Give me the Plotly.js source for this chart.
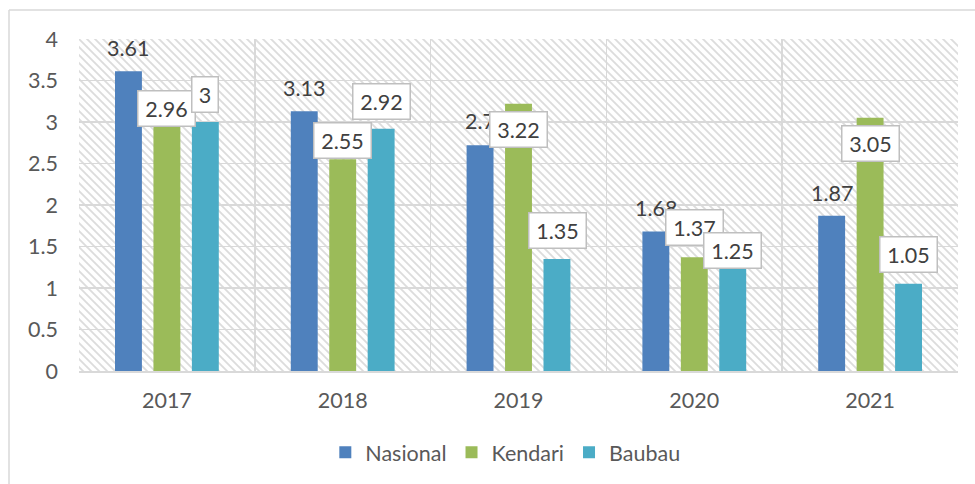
<!DOCTYPE html>
<html>
<head>
<meta charset="utf-8">
<script src="https://cdn.plot.ly/plotly-3.0.1.min.js"></script>
<style>
html,body{margin:0;padding:0;background:#fff;}
#chart{width:975px;height:484px;}
</style>
</head>
<body>
<div id="chart"></div>
<script>
// ---- data ----
const years = ["2017", "2018", "2019", "2020", "2021"];
const nasional = [3.61, 3.13, 2.72, 1.68, 1.87];
const kendari = [2.96, 2.55, 3.22, 1.37, 3.05];
const baubau = [3, 2.92, 1.35, 1.25, 1.05];
const seriesNames = ["Nasional", "Kendari", "Baubau"];
const yTicks = [0, 0.5, 1, 1.5, 2, 2.5, 3, 3.5, 4];

// ---- style ----
const colors = ["#4F81BD", "#9BBB59", "#4BACC6"];
const FONT = "Lato, 'Open Sans', sans-serif";
const TXT = "#595959";
const FS = 21.5;
// label offsets (px), styling only
const labelShift = [
  [23, 23, 24, 24, 23],
  [17, 19, -26, 30, -26],
  [28, 27, 28, 17, 29]
];
const labelXShift = [
  [0, 0, 6, 0, 0],
  [0, 0, 0, 0, 0],
  [0, 0, 0, 0, 0]
];
const slotPx = 38.5;

const allSeries = [nasional, kendari, baubau];
const traces = allSeries.map((vals, i) => ({
  type: "bar",
  name: seriesNames[i],
  x: years,
  y: vals,
  marker: {color: colors[i]},
  hoverinfo: "skip"
}));

// hatched background as svg pattern
const W = 879, H = 332, P = 8;
const svg = `<svg xmlns='http://www.w3.org/2000/svg' width='${W}' height='${H}' viewBox='0 0 ${W} ${H}'>` +
  `<defs><pattern id='p' patternUnits='userSpaceOnUse' width='${P}' height='${P}'>` +
  `<rect width='${P}' height='${P}' fill='white'/>` +
  `<path d='M-1,-1 L${P+1},${P+1} M-1,${P-1} L1,${P+1} M${P-1},-1 L${P+1},1' stroke='#DCDCDC' stroke-width='1.8'/>` +
  `</pattern></defs><rect width='${W}' height='${H}' fill='url(#p)'/></svg>`;
const bgSrc = "data:image/svg+xml;charset=utf-8," + encodeURIComponent(svg);

const annotations = [];
allSeries.forEach((vals, i) => {
  vals.forEach((v, j) => {
    const txt = String(v);
    const boxed = i > 0;
    const a = {
      x: j, y: v, xref: "x", yref: "y",
      xshift: (i - 1) * slotPx + labelXShift[i][j],
      yshift: labelShift[i][j],
      text: txt,
      showarrow: false,
      xanchor: "center", yanchor: "middle",
      font: {family: FONT, size: FS, color: "#404040"}
    };
    if (boxed) {
      a.bgcolor = "#FFFFFF";
      a.bordercolor = "#BFBFBF";
      a.borderwidth = 1.5;
      a.borderpad = 4;
      a.width = 17 + (txt.length - 1) * 10.3;
      a.height = 26;
    }
    annotations.push(a);
  });
});

const layout = {
  width: 975, height: 484,
  margin: {l: 79, r: 17, t: 39, b: 113, autoexpand: false},
  paper_bgcolor: "#FFFFFF",
  plot_bgcolor: "rgba(0,0,0,0)",
  barmode: "group",
  bargap: 0.344,
  bargroupgap: 0.3,
  font: {family: FONT, size: FS, color: TXT},
  xaxis: {
    type: "category",
    categoryorder: "array",
    categoryarray: years,
    range: [-0.5, 4.5],
    autorange: false,
    tickson: "boundaries",
    showgrid: true,
    gridcolor: "#D9D9D9",
    gridwidth: 1.5,
    ticks: "",
    showline: true,
    linecolor: "#D9D9D9",
    linewidth: 1.5,
    tickangle: 0,
    ticklabelstandoff: 10,
    tickfont: {family: FONT, size: FS, color: TXT},
    fixedrange: true
  },
  yaxis: {
    range: [0, 4],
    autorange: false,
    tickvals: yTicks,
    ticktext: yTicks.map(String),
    showgrid: true,
    gridcolor: "#D9D9D9",
    gridwidth: 1.5,
    zeroline: false,
    showline: false,
    ticks: "",
    ticklabelstandoff: 20,
    tickfont: {family: FONT, size: FS, color: TXT},
    fixedrange: true
  },
  legend: {
    orientation: "h",
    x: 0.485, xanchor: "center",
    y: -0.245, yanchor: "middle",
    font: {family: FONT, size: FS, color: TXT},
    itemwidth: 30,
    traceorder: "normal"
  },
  images: [{
    source: bgSrc,
    xref: "x", yref: "y",
    x: -0.5, y: 4, sizex: 5, sizey: 4,
    xanchor: "left", yanchor: "top",
    sizing: "stretch",
    layer: "below"
  }],
  shapes: [
    {type: "line", xref: "paper", yref: "paper",
     x0: -70/879, x1: 1.03, y0: 1 + 29/332, y1: 1 + 29/332,
     line: {color: "#D9D9D9", width: 1.5}},
    {type: "line", xref: "paper", yref: "paper",
     x0: -70/879, x1: -70/879, y0: 1 + 29/332, y1: -0.4,
     line: {color: "#D9D9D9", width: 1.5}}
  ],
  annotations: annotations,
  showlegend: true
};

Plotly.newPlot("chart", traces, layout, {displayModeBar: false, staticPlot: true});
</script>
</body>
</html>
